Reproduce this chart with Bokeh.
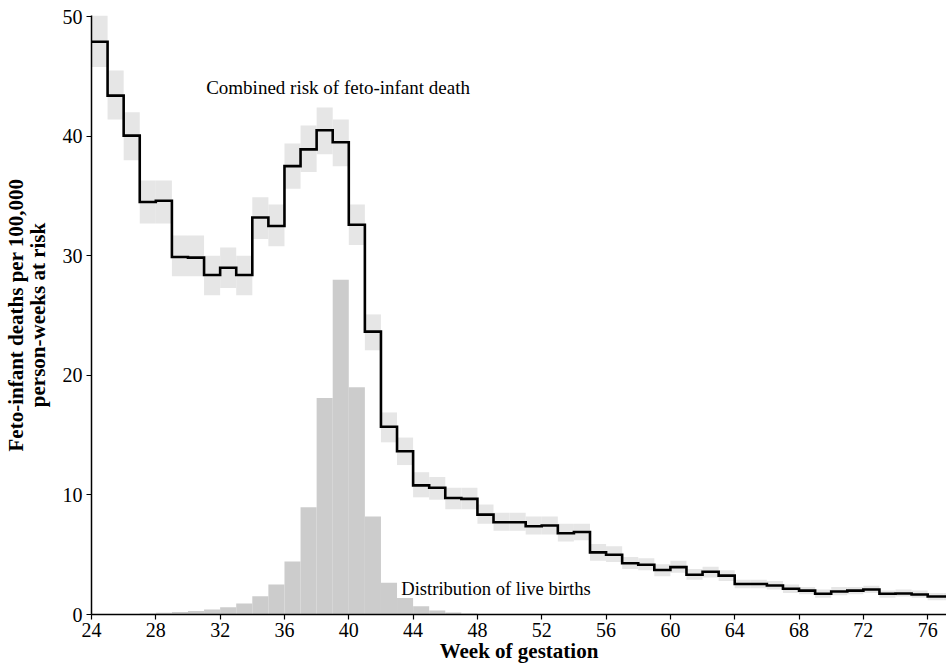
from bokeh.plotting import figure
from bokeh.models import Range1d, ColumnDataSource, FixedTicker, Label
from bokeh.embed import file_html
from bokeh.resources import INLINE

weeks = list(range(24, 78))
risk = [47.9, 43.4, 40.05, 34.5, 34.6, 29.9, 29.85, 28.4, 29.0, 28.4,
        33.2, 32.5, 37.5, 38.9, 40.5, 39.5, 32.6, 23.66, 15.7, 13.65,
        10.8, 10.6, 9.75, 9.67, 8.35, 7.72, 7.72, 7.38, 7.44, 6.8,
        6.9, 5.2, 5.0, 4.29, 4.16, 3.72, 3.96, 3.32, 3.57, 3.25,
        2.55, 2.55, 2.42, 2.15, 2.0, 1.73, 1.92, 2.0, 2.09, 1.73,
        1.76, 1.67, 1.5, 1.5]
risk_lo = [45.8, 41.4, 38.0, 32.7, 32.7, 28.3, 28.3, 26.7, 27.3, 26.7,
           31.4, 30.8, 35.6, 37.0, 38.5, 37.5, 30.9, 22.1, 14.4, 12.5,
           9.8, 9.6, 8.8, 8.8, 7.6, 7.0, 7.0, 6.7, 6.7, 6.1,
           6.2, 4.5, 4.4, 3.8, 3.7, 3.2, 3.5, 2.9, 3.1, 2.8,
           2.2, 2.2, 2.1, 1.8, 1.7, 1.4, 1.6, 1.7, 1.8, 1.4,
           1.5, 1.4, 1.2, 1.2]
risk_hi = [50.1, 45.5, 42.0, 36.3, 36.3, 31.7, 31.7, 30.0, 30.7, 30.0,
           34.9, 34.3, 39.4, 40.9, 42.4, 41.4, 34.3, 25.1, 16.9, 14.8,
           11.9, 11.5, 10.6, 10.6, 9.2, 8.5, 8.5, 8.2, 8.2, 7.6,
           7.6, 5.9, 5.7, 4.8, 4.7, 4.2, 4.5, 3.8, 4.0, 3.7,
           2.9, 2.9, 2.8, 2.5, 2.3, 2.1, 2.3, 2.3, 2.4, 2.0,
           2.1, 2.0, 1.8, 1.8]
births = [0.02, 0.03, 0.05, 0.08, 0.14, 0.2, 0.3, 0.42, 0.61, 0.92,
          1.53, 2.5, 4.43, 8.97, 18.1, 28.0, 19.0, 8.2, 2.65, 1.37,
          0.7, 0.33, 0.17, 0.08, 0.04, 0.02]
births = births + [0.0] * (len(weeks) - len(births))

x_ticks = list(range(24, 77, 4))
y_ticks = [0, 10, 20, 30, 40, 50]

SERIF = "Liberation Serif"

src = ColumnDataSource(dict(
    left=weeks,
    right=[w + 1 for w in weeks],
    lo=risk_lo,
    hi=risk_hi,
    births=births,
    zero=[0] * len(weeks),
))

p = figure(width=946, height=665, output_backend="svg", toolbar_location=None,
           x_range=Range1d(24, 77.17), y_range=Range1d(0, 50.1),
           min_border_left=88, min_border_top=15, min_border_right=0,
           min_border_bottom=51)
p.background_fill_color = "white"
p.outline_line_color = None
p.xgrid.visible = False
p.ygrid.visible = False

# histogram of live births
p.quad(left="left", right="right", bottom="zero", top="births", source=src,
       fill_color="#cccccc", line_color=None)
# confidence bands
p.quad(left="left", right="right", bottom="lo", top="hi", source=src,
       fill_color="#e6e6e6", line_color=None)
# step line
sx = weeks + [weeks[-1] + 1]
sy = risk + [risk[-1]]
p.step(x=sx, y=sy, mode="after", line_color="black", line_width=2.6,
       line_join="miter")

p.add_layout(Label(x=31.13, y=44.1, text="Combined risk of feto-infant death",
                   text_font=SERIF, text_font_size="19px", text_color="black",
                   text_baseline="alphabetic"))
p.add_layout(Label(x=43.26, y=2.2, text="Distribution of live births",
                   text_font=SERIF, text_font_size="18.6px", text_color="black",
                   text_baseline="alphabetic"))

for ax in (p.xaxis[0], p.yaxis[0]):
    ax.axis_line_color = "black"
    ax.axis_line_width = 1.5
    ax.major_tick_line_color = "black"
    ax.major_tick_line_width = 1.2
    ax.major_tick_out = 5
    ax.major_tick_in = 0
    ax.minor_tick_line_color = None
    ax.major_label_text_font = SERIF
    ax.major_label_text_font_size = "20px"
    ax.major_label_text_color = "black"
    ax.axis_label_text_font = SERIF
    ax.axis_label_text_font_size = "21px"
    ax.axis_label_text_font_style = "bold"
    ax.axis_label_text_color = "black"

p.xaxis.ticker = FixedTicker(ticks=x_ticks)
p.yaxis.ticker = FixedTicker(ticks=y_ticks)
p.xaxis.axis_label = "Week of gestation"
p.yaxis.axis_label = "Feto-infant deaths per 100,000\nperson-weeks at risk"
p.yaxis.axis_label_text_line_height = 0.9
p.xaxis.major_label_standoff = 3
p.xaxis.axis_label_standoff = -1
p.yaxis.major_label_standoff = 4
p.yaxis.axis_label_standoff = 10

open("out.html", "w").write(file_html(p, INLINE))
